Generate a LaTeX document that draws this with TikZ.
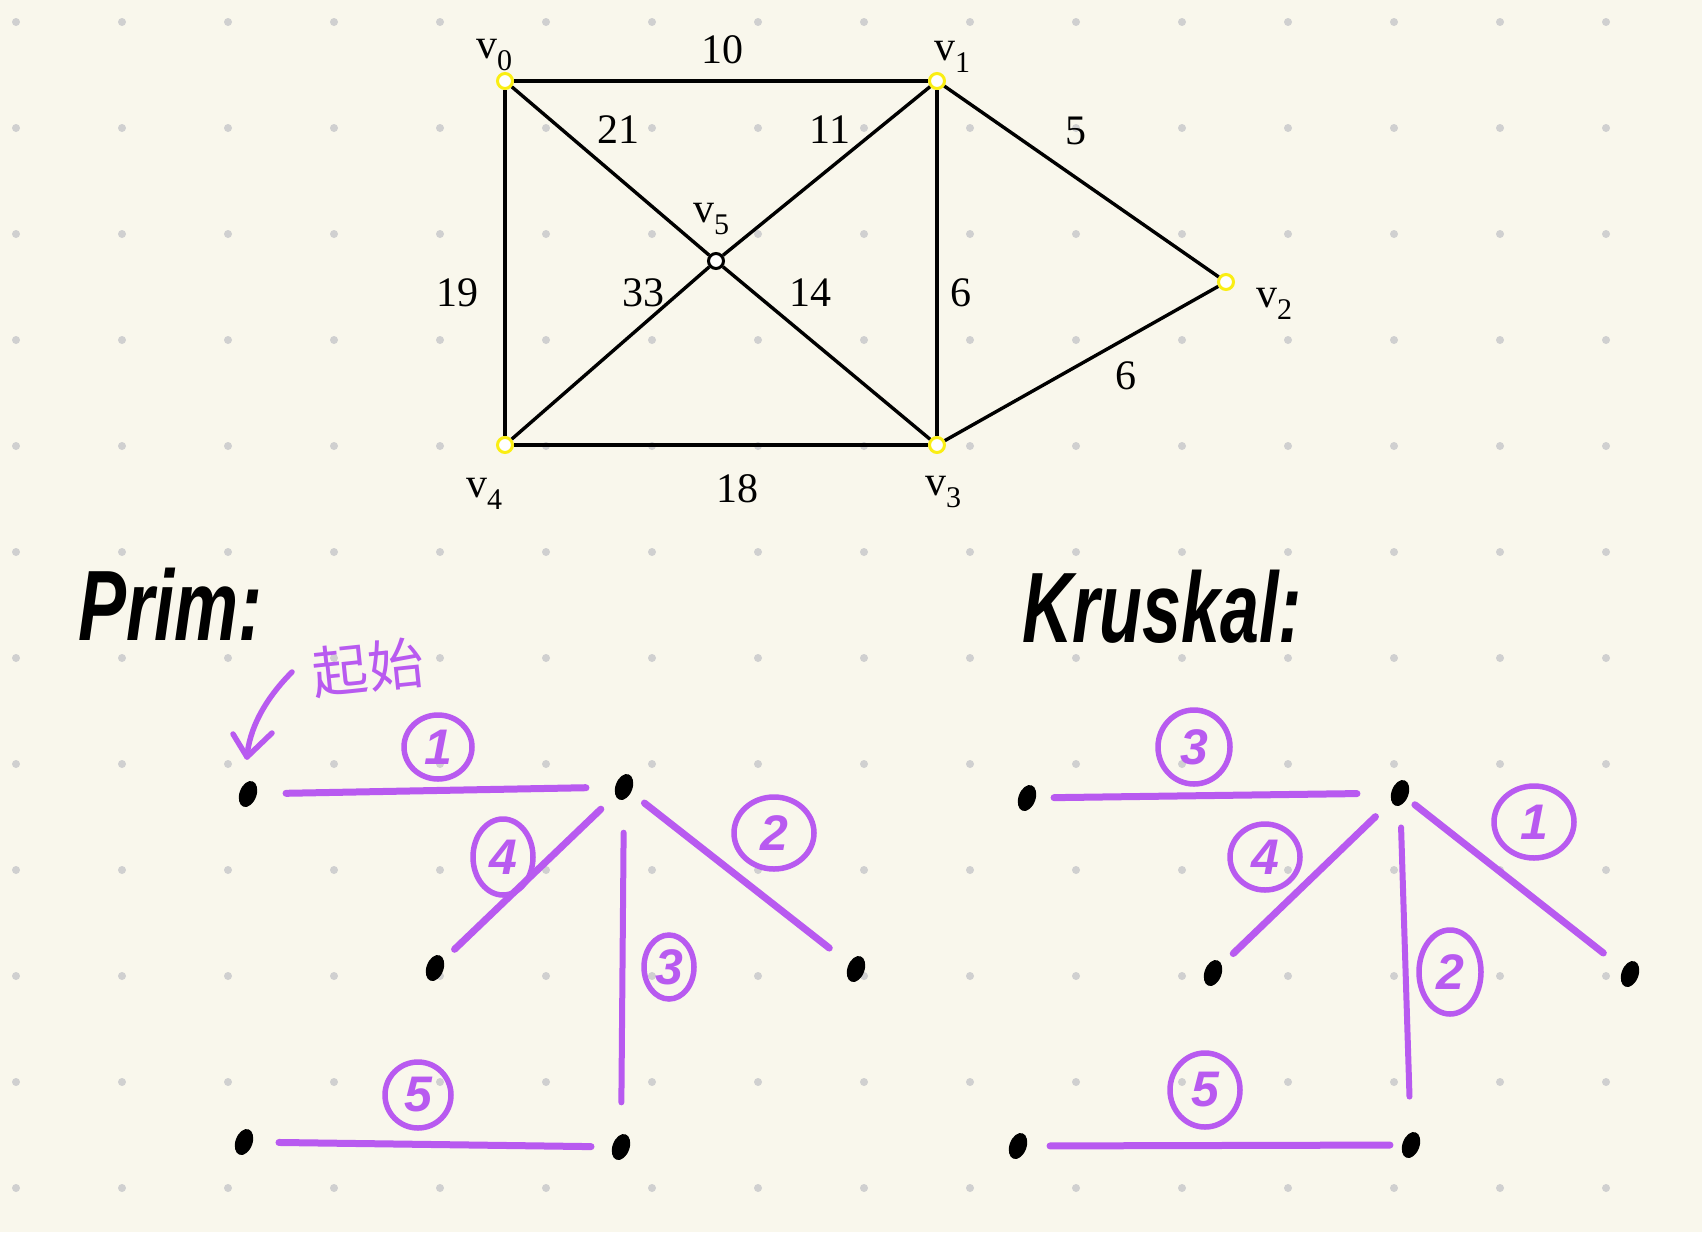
\documentclass[tikz,border=0pt]{standalone}
\usepackage{fontspec}
\usepackage{graphicx}
\setmainfont{Liberation Serif}
\newfontfamily\handfont{Liberation Sans}
\newfontfamily\cjkfont{Noto Sans CJK SC}
\usetikzlibrary{shapes.geometric}
\definecolor{bgc}{RGB}{249,247,236}
\definecolor{gridc}{RGB}{208,208,208}
\definecolor{penc}{RGB}{184,90,240}
\definecolor{yelc}{RGB}{250,238,20}
\newcommand\vsub[1]{v\raisebox{-0.28em}{\fontsize{30}{30}\selectfont #1}}
\tikzset{
  gedge/.style={line width=3.4pt, black},
  yv/.style={circle, draw=yelc, fill=white, line width=3pt, minimum size=15pt, inner sep=0pt},
  cv/.style={circle, draw=black, fill=white, line width=3pt, minimum size=15pt, inner sep=0pt},
  wlab/.style={font=\fontsize{42}{42}\selectfont, inner sep=0pt},
  bdot/.style={ellipse, fill=black, minimum width=17pt, minimum height=27pt, inner sep=0pt, rotate=-20},
  pline/.style={penc, line width=7pt, line cap=round, line join=round},
  cnum/.style={ellipse, draw=penc, line width=5.5pt, inner sep=0pt, text=penc,
    font=\handfont\bfseries\itshape\fontsize{50}{50}\selectfont},
  handtxt/.style={inner sep=0pt, font=\handfont\bfseries\itshape\fontsize{100}{100}\selectfont}
}
\begin{document}
\begin{tikzpicture}[x=1pt,y=-1pt]
\fill[bgc] (0,0) rectangle (1702,1232);
\useasboundingbox (0,0) rectangle (1702,1232);
\foreach \i in {0,...,15}{
  \foreach \j in {0,...,11}{
    \fill[gridc] ({16+106*\i},{22+106*\j}) circle (4pt);
  }
}
% ---------- weighted graph ----------
\node[yv] (v0) at (505,81) {};
\node[yv] (v1) at (937,81) {};
\node[yv] (v2) at (1226,282) {};
\node[yv] (v3) at (937,445) {};
\node[yv] (v4) at (505,445) {};
\node[cv] (v5) at (716,261) {};
\draw[gedge] (v0) -- (v1);
\draw[gedge] (v0) -- (v4);
\draw[gedge] (v0) -- (v5);
\draw[gedge] (v1) -- (v5);
\draw[gedge] (v1) -- (v3);
\draw[gedge] (v1) -- (v2);
\draw[gedge] (v2) -- (v3);
\draw[gedge] (v4) -- (v3);
\draw[gedge] (v4) -- (v5);
\draw[gedge] (v5) -- (v3);
\node[wlab] (l0) at (494,55) {\vsub{0}};
\node[wlab] (l1) at (952,57) {\vsub{1}};
\node[wlab] (l2) at (1274,304) {\vsub{2}};
\node[wlab] (l3) at (943,492) {\vsub{3}};
\node[wlab] (l4) at (484,494) {\vsub{4}};
\node[wlab] (l5) at (711,219) {\vsub{5}};
\node[wlab] (w01) at (722,50) {10};
\node[wlab] (w05) at (618,130) {21};
\node[wlab] (w15) at (830,130) {11};
\node[wlab] (w12) at (1076,131) {5};
\node[wlab] (w04) at (457,293) {19};
\node[wlab] (w45) at (643,293) {33};
\node[wlab] (w53) at (810,293) {14};
\node[wlab] (w13) at (961,293) {6};
\node[wlab] (w23) at (1126,376) {6};
\node[wlab] (w43) at (737,489) {18};
% ---------- Prim ----------
\node[handtxt, anchor=base west] (prim) at (78,640) {\scalebox{0.72}[1]{Prim:}};
\node[inner sep=0pt, text=penc, font=\cjkfont\fontsize{56}{56}\selectfont, rotate=6] (qishi) at (368,668) {起始};
\coordinate (arS) at (292,672);
\coordinate (arE) at (247,757);
\coordinate (arL) at (233,734);
\coordinate (arR) at (272,733);
\draw[pline, line width=5.5pt] (arS) .. controls (264,700) and (249,730) .. (arE);
\draw[pline, line width=5.5pt] (arL) -- (arE) -- (arR);
\node[bdot] (pa) at (248,794) {};
\node[bdot] (pb) at (624,787) {};
\node[bdot] (pc) at (435,968) {};
\node[bdot] (pd) at (856,969) {};
\node[bdot] (pe) at (244,1142) {};
\node[bdot] (pf) at (621,1147) {};
\draw[pline, shorten <=29pt, shorten >=29pt] (pa) -- (pb);
\draw[pline, shorten <=20pt, shorten >=15pt] (pb) -- (pc);
\draw[pline, shorten <=17pt, shorten >=25pt] (pb) -- (pd);
\draw[pline, line width=6pt, shorten <=33pt, shorten >=32pt] (pb) -- (pf);
\draw[pline, shorten <=26pt, shorten >=21pt] (pe) -- (pf);
\node[cnum, minimum width=68pt, minimum height=64pt] (pn1) at (438,747) {1};
\node[cnum, minimum width=80pt, minimum height=72pt] (pn2) at (774,833) {2};
\node[cnum, minimum width=50pt, minimum height=64pt] (pn3) at (669,967) {3};
\node[cnum, minimum width=60pt, minimum height=76pt] (pn4) at (503,857) {4};
\node[cnum, minimum width=66pt, minimum height=66pt] (pn5) at (418,1095) {5};
% ---------- Kruskal ----------
\node[handtxt, anchor=base west] (krus) at (1022,642) {\scalebox{0.7}[1]{Kruskal:}};
\node[bdot] (ka) at (1027,798) {};
\node[bdot] (kb) at (1400,793) {};
\node[bdot] (kc) at (1213,973) {};
\node[bdot] (kd) at (1630,974) {};
\node[bdot] (ke) at (1018,1146) {};
\node[bdot] (kf) at (1411,1145) {};
\draw[pline, shorten <=18pt, shorten >=34pt] (ka) -- (kb);
\draw[pline, shorten <=22pt, shorten >=16pt] (kb) -- (kc);
\draw[pline, shorten <=10pt, shorten >=25pt] (kb) -- (kd);
\draw[pline, line width=6pt, shorten <=22pt, shorten >=36pt] (kb) -- (kf);
\draw[pline, shorten <=23pt, shorten >=12pt] (ke) -- (kf);
\node[cnum, minimum width=72pt, minimum height=74pt] (kn3) at (1194,747) {3};
\node[cnum, minimum width=70pt, minimum height=66pt] (kn4) at (1265,857) {4};
\node[cnum, minimum width=80pt, minimum height=72pt] (kn1) at (1534,822) {1};
\node[cnum, minimum width=62pt, minimum height=84pt] (kn2) at (1450,972) {2};
\node[cnum, minimum width=70pt, minimum height=74pt] (kn5) at (1205,1090) {5};
\end{tikzpicture}
\end{document}
